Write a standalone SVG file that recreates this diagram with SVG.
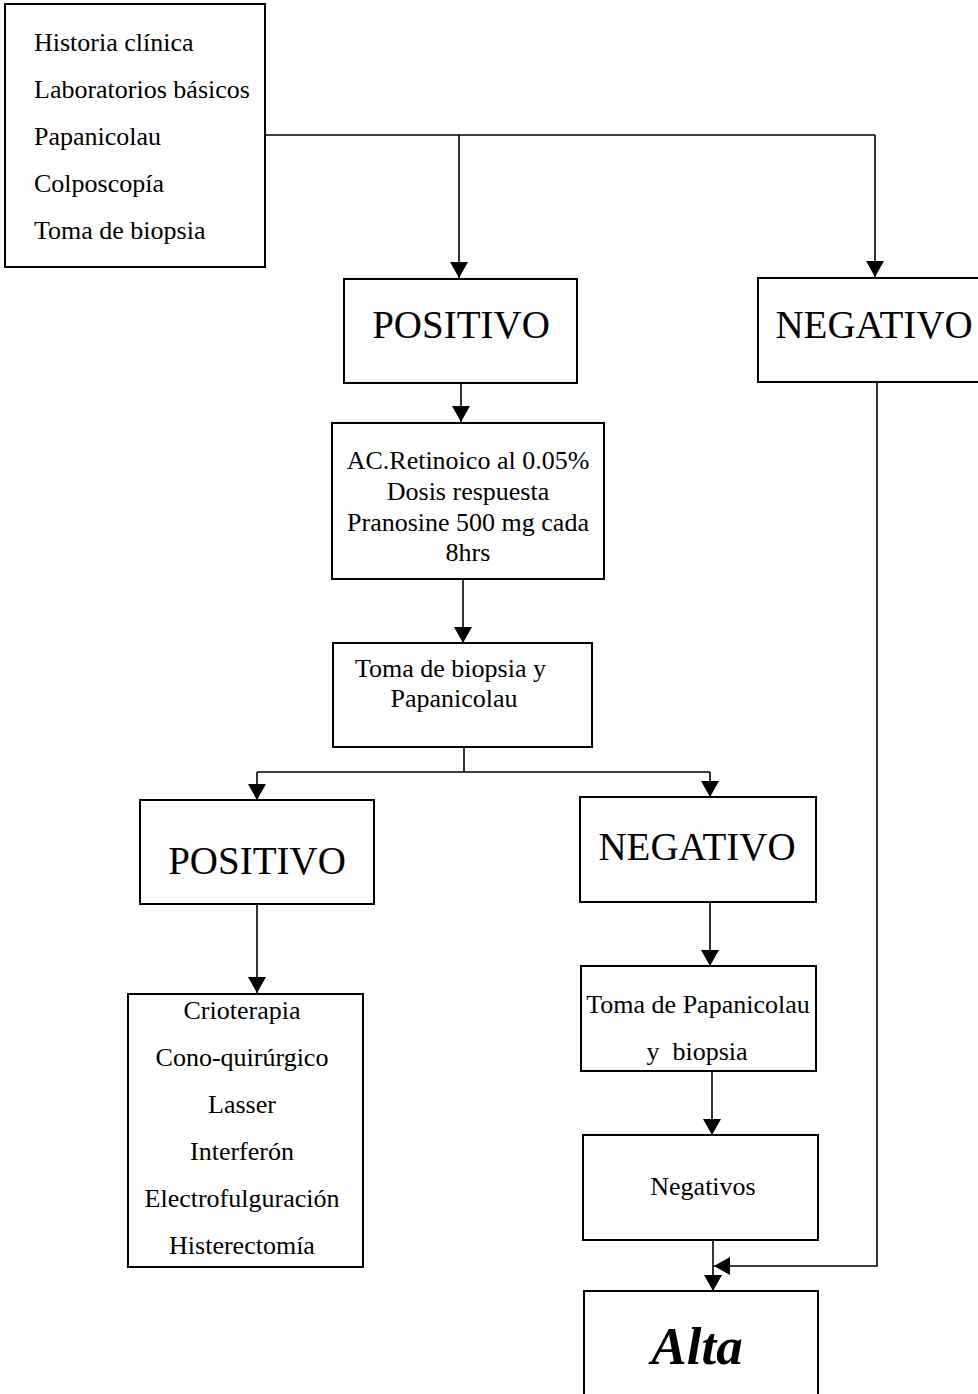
<svg xmlns="http://www.w3.org/2000/svg" width="978" height="1394" viewBox="0 0 978 1394">
<style>
.box{fill:#fff;stroke:#000;stroke-width:2}
.t{font-family:"Liberation Serif","Times New Roman",serif;font-size:26px;fill:#000}
.c{text-anchor:middle}
.big{font-family:"Liberation Serif","Times New Roman",serif;font-size:39px;fill:#000;text-anchor:middle}
.alta{font-family:"Liberation Serif","Times New Roman",serif;font-size:53px;font-weight:bold;font-style:italic;fill:#000;text-anchor:middle}
.ln{fill:none;stroke:#000;stroke-width:1.6}
</style>
<defs>
<marker id="arr" viewBox="0 0 16 18" refX="16" refY="9" markerWidth="16" markerHeight="18" markerUnits="userSpaceOnUse" orient="auto">
<path d="M0,0 L16,9 L0,18 Z" fill="#000"/>
</marker>
</defs>
<rect width="978" height="1394" fill="#fff"/>
<g id="connectors">
<path class="ln" d="M265,135 H875"/>
<path class="ln" d="M459,135 V278" marker-end="url(#arr)"/>
<path class="ln" d="M875,135 V277" marker-end="url(#arr)"/>
<path class="ln" d="M461,383 V422" marker-end="url(#arr)"/>
<path class="ln" d="M463,579 V643" marker-end="url(#arr)"/>
<path class="ln" d="M464,747 V772 M257,772 H710"/>
<path class="ln" d="M257,772 V800" marker-end="url(#arr)"/>
<path class="ln" d="M710,772 V797" marker-end="url(#arr)"/>
<path class="ln" d="M257,904 V993" marker-end="url(#arr)"/>
<path class="ln" d="M710,902 V966" marker-end="url(#arr)"/>
<path class="ln" d="M712,1071 V1135" marker-end="url(#arr)"/>
<path class="ln" d="M713,1240 V1291" marker-end="url(#arr)"/>
<path class="ln" d="M877,382 V1266 H714" marker-end="url(#arr)"/>
</g>
<g id="n1">
<rect class="box" x="5" y="4" width="260" height="263"/>
<text class="t" x="34" y="51">Historia clínica</text>
<text class="t" x="34" y="98">Laboratorios básicos</text>
<text class="t" x="34" y="145">Papanicolau</text>
<text class="t" x="34" y="192">Colposcopía</text>
<text class="t" x="34" y="239">Toma de biopsia</text>
</g>
<g id="n2">
<rect class="box" x="344" y="279" width="233" height="104"/>
<text class="big" x="461" y="338">POSITIVO</text>
</g>
<g id="n3">
<rect class="box" x="758" y="278" width="222" height="104"/>
<text class="big" x="874" y="338">NEGATIVO</text>
</g>
<g id="n4">
<rect class="box" x="332" y="423" width="272" height="156"/>
<text class="t c" x="468" y="469">AC.Retinoico al 0.05%</text>
<text class="t c" x="468" y="500">Dosis respuesta</text>
<text class="t c" x="468" y="531">Pranosine 500 mg cada</text>
<text class="t c" x="468" y="561">8hrs</text>
</g>
<g id="n5">
<rect class="box" x="333" y="643" width="259" height="104"/>
<text class="t" x="355" y="677">Toma de biopsia y</text>
<text class="t c" x="454" y="707">Papanicolau</text>
</g>
<g id="n6">
<rect class="box" x="140" y="800" width="234" height="104"/>
<text class="big" x="257" y="874">POSITIVO</text>
</g>
<g id="n7">
<rect class="box" x="580" y="797" width="236" height="105"/>
<text class="big" x="697" y="860">NEGATIVO</text>
</g>
<g id="n8">
<rect class="box" x="128" y="994" width="235" height="273"/>
<text class="t c" x="242" y="1019">Crioterapia</text>
<text class="t c" x="242" y="1066">Cono-quirúrgico</text>
<text class="t c" x="242" y="1113">Lasser</text>
<text class="t c" x="242" y="1160">Interferón</text>
<text class="t c" x="242" y="1207">Electrofulguración</text>
<text class="t c" x="242" y="1254">Histerectomía</text>
</g>
<g id="n9">
<rect class="box" x="581" y="966" width="235" height="105"/>
<text class="t c" x="698" y="1013">Toma de Papanicolau</text>
<text class="t c" x="697" y="1060" xml:space="preserve">y  biopsia</text>
</g>
<g id="n10">
<rect class="box" x="583" y="1135" width="235" height="105"/>
<text class="t c" x="703" y="1195">Negativos</text>
</g>
<g id="n11">
<rect class="box" x="584" y="1291" width="234" height="110"/>
<text class="alta" x="697" y="1364">Alta</text>
</g>
</svg>
